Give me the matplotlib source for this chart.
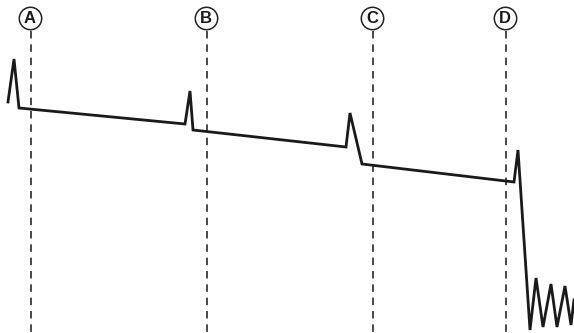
import matplotlib
matplotlib.use("Agg")
import matplotlib.pyplot as plt

# Trace (horizontal position, signal level in screen units; larger = lower)
trace_x = [8, 14, 19, 185, 190, 193, 346, 350, 362, 514, 518, 530, 536, 543, 551, 557, 565, 571, 574]
trace_y = [102, 59, 108, 124, 91, 130, 147, 113, 164, 182, 150, 330, 278, 327, 284, 327, 286, 325, 300]

event_labels = ["A", "B", "C", "D"]
event_x = [31, 207, 373, 506]

fig = plt.figure(figsize=(5.74, 3.33), dpi=100)
ax = fig.add_axes([0, 0, 1, 1])
ax.set_xlim(0, 574)
ax.set_ylim(333, 0)
ax.axis("off")

ax.plot(trace_x, trace_y, color="#1a1a1a", lw=2.0, solid_joinstyle="miter", zorder=3)

for lab, xv in zip(event_labels, event_x):
    ax.plot([xv, xv], [31, 333], color="#2a2a2a", lw=1.2, dashes=(4.5, 3.5), zorder=2)
    ax.scatter([xv - 1], [18], s=260, facecolor="white", edgecolor="#222222", linewidths=1.1, zorder=4)
    ax.text(xv - 1, 18.5, lab, ha="center", va="center", fontsize=12, fontweight="bold",
            family="Liberation Sans", color="#1a1a1a", zorder=5)

fig.savefig("out.png", dpi=100)
